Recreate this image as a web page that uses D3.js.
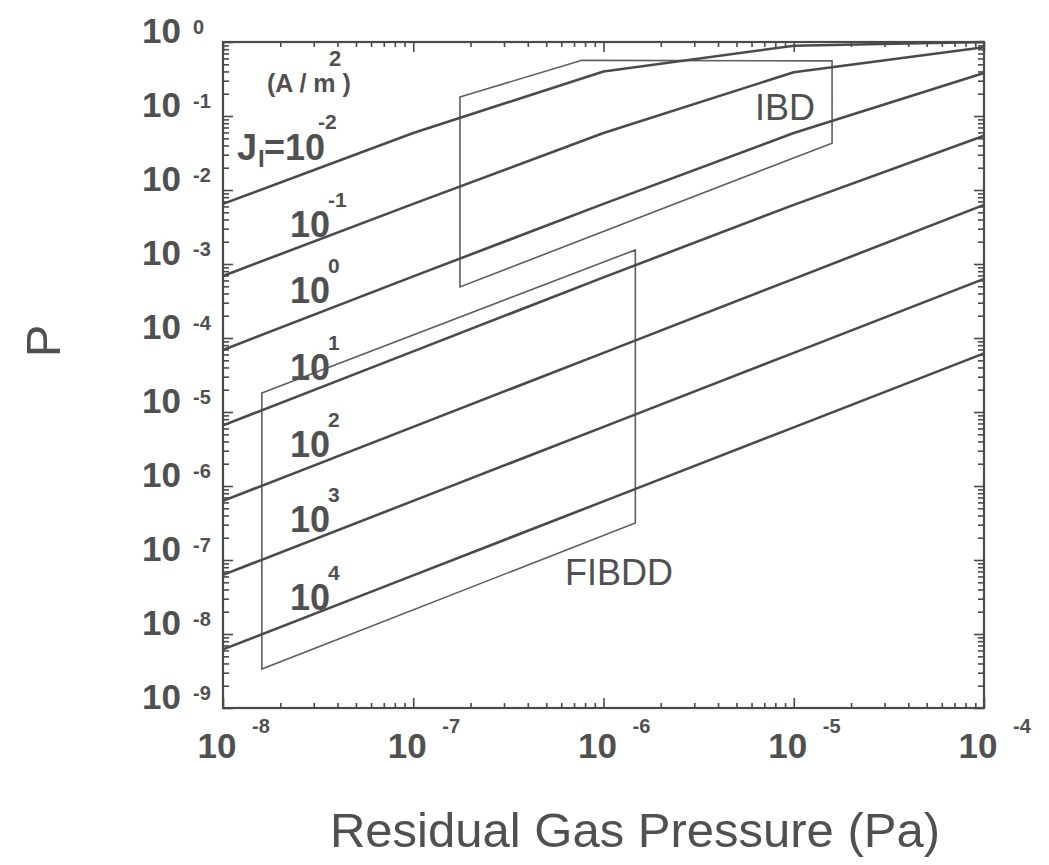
<!DOCTYPE html>
<html>
<head>
<meta charset="utf-8">
<script src="https://cdn.jsdelivr.net/npm/d3@7"></script>
<style>
  html, body { margin: 0; padding: 0; background: #fff; }
  svg { display: block; }
  text { font-family: "Liberation Sans", Arial, Helvetica, sans-serif; fill: #505050; }
</style>
</head>
<body>
<svg id="chart" width="1049" height="865"></svg>
<script>
// Residual gas pressure grid (Pa) at which each curve is evaluated
const pressures = [1e-8, 1e-7, 1e-6, 1e-5, 1e-4];

// Ion current density exponents, J_I = 10^k  (A/m^2)
const currentExps = [-2, -1, 0, 1, 2, 3, 4];

// Probability P at each pressure for each current density
const probJm2 = [6.5e-3, 5.9e-2, 0.40, 0.89, 1.0];
const probJm1 = [6.9e-4, 6.5e-3, 5.9e-2, 0.39, 0.85];
const probJ0  = [6.9e-5, 6.8e-4, 6.5e-3, 5.9e-2, 0.38];
const probJ1  = [6.6e-6, 6.6e-5, 6.6e-4, 6.3e-3, 5.4e-2];
const probJ2  = [6.3e-7, 6.3e-6, 6.3e-5, 6.3e-4, 6.3e-3];
const probJ3  = [6.3e-8, 6.3e-7, 6.3e-6, 6.3e-5, 6.3e-4];
const probJ4  = [6.2e-9, 6.2e-8, 6.2e-7, 6.2e-6, 6.2e-5];
const probSeries = [probJm2, probJm1, probJ0, probJ1, probJ2, probJ3, probJ4];

// Operating regions: [pressure, P] outline vertices
const regionIBD = [[1.76e-7, 0.181], [7.7e-7, 0.565], [1.59e-5, 0.555], [1.59e-5, 4.3e-2], [1.76e-7, 4.9e-4]];
const regionFIBDD = [[1.6e-8, 1.81e-5], [1.47e-6, 1.55e-3], [1.47e-6, 3.16e-7], [1.6e-8, 3.37e-9]];

// Axis decades
const xDecades = [-8, -7, -6, -5, -4];
const yDecades = [0, -1, -2, -3, -4, -5, -6, -7, -8, -9];

const svg = d3.select("#chart");
const plotL = 223, plotR = 984, plotT = 42, plotB = 708;

const x = d3.scaleLog().domain([1e-8, 1e-4]).range([plotL, plotR]);
const y = d3.scaleLog().domain([1e-9, 1]).range([plotB, plotT]);

const ink = "#4a4a4a";

function minorTicks(lo, hi) {
  const out = [];
  for (let e = lo; e < hi; e++) for (let m = 2; m <= 9; m++) out.push(m * Math.pow(10, e));
  return out;
}
const xMinor = minorTicks(-8, -4);
const yMinor = minorTicks(-9, 0);
const xMajor = xDecades.map(e => Math.pow(10, e));
const yMajor = yDecades.map(e => Math.pow(10, e));

// Inward-pointing ticks on all four sides
function drawAxis(gen, scale, vals, size, tx, ty) {
  const g = svg.append("g").attr("transform", `translate(${tx},${ty})`)
    .call(gen(scale).tickValues(vals).tickSize(-size).tickFormat(""));
  g.select(".domain").remove();
  g.selectAll("line").attr("stroke", ink).attr("stroke-width", 1.6);
}
drawAxis(d3.axisBottom, x, xMinor, 5, 0, plotB);
drawAxis(d3.axisBottom, x, xMajor, 10, 0, plotB);
drawAxis(d3.axisTop, x, xMinor, 5, 0, plotT);
drawAxis(d3.axisTop, x, xMajor, 10, 0, plotT);
drawAxis(d3.axisLeft, y, yMinor, 6, plotL, 0);
drawAxis(d3.axisLeft, y, yMajor, 10, plotL, 0);
drawAxis(d3.axisRight, y, yMinor, 6, plotR, 0);
drawAxis(d3.axisRight, y, yMajor, 10, plotR, 0);

// Frame
svg.append("rect").attr("x", plotL).attr("y", plotT)
  .attr("width", plotR - plotL).attr("height", plotB - plotT)
  .attr("fill", "none").attr("stroke", ink).attr("stroke-width", 2.2);

// Region outlines
const outline = d3.line().x(d => x(d[0])).y(d => y(d[1]));
[regionIBD, regionFIBDD].forEach(r => {
  svg.append("path").attr("d", outline(r) + "Z")
    .attr("fill", "none").attr("stroke", "#5e5e5e").attr("stroke-width", 1.6);
});

// Probability curves
const curve = d3.line().x((d, i) => x(pressures[i])).y(d => y(d));
probSeries.forEach(s => {
  svg.append("path").attr("d", curve(s))
    .attr("fill", "none").attr("stroke", ink).attr("stroke-width", 2.6)
    .attr("stroke-linejoin", "round");
});

// Y tick labels: 10 with superscript exponent
yDecades.forEach(e => {
  const ty = y(Math.pow(10, e));
  svg.append("text").attr("x", plotL - 42).attr("y", ty + 1)
    .attr("text-anchor", "end").attr("font-size", 35).attr("font-weight", "bold").text("10");
  svg.append("text").attr("x", plotL - 30).attr("y", ty - 8)
    .attr("font-size", 20).attr("font-weight", "bold").text(String(e));
});

// X tick labels
xDecades.forEach(e => {
  const tx = x(Math.pow(10, e));
  svg.append("text").attr("x", tx - 6).attr("y", 758)
    .attr("text-anchor", "middle").attr("font-size", 35).attr("font-weight", "bold").text("10");
  svg.append("text").attr("x", tx + 29).attr("y", 733)
    .attr("font-size", 20).attr("font-weight", "bold").text(String(e));
});

// Axis titles
svg.append("text").attr("x", 635).attr("y", 847).attr("text-anchor", "middle")
  .attr("font-size", 49).attr("fill", "#5a5a5a").text("Residual Gas Pressure (Pa)");
svg.append("text").attr("transform", "translate(60,341) rotate(-90)")
  .attr("text-anchor", "middle").attr("font-size", 49).attr("fill", "#5a5a5a").text("P");

// Units
svg.append("text").attr("x", 267).attr("y", 92).attr("font-size", 25)
  .attr("font-weight", "bold").attr("xml:space", "preserve").text("(A / m )");
svg.append("text").attr("x", 329).attr("y", 66).attr("font-size", 22)
  .attr("font-weight", "bold").text("2");

// Curve labels
const labelBase = [160, 237, 303, 380, 457, 532, 610];
currentExps.forEach((k, i) => {
  const b = labelBase[i];
  if (i === 0) {
    svg.append("text").attr("x", 237).attr("y", b).attr("font-size", 36).attr("font-weight", "bold").text("J");
    svg.append("text").attr("x", 258).attr("y", b + 7).attr("font-size", 24).attr("font-weight", "bold").text("I");
    svg.append("text").attr("x", 264).attr("y", b).attr("font-size", 36).attr("font-weight", "bold").text("=10");
    svg.append("text").attr("x", 318).attr("y", b - 31).attr("font-size", 21).attr("font-weight", "bold").text(String(k));
  } else {
    svg.append("text").attr("x", 290).attr("y", b).attr("font-size", 36).attr("font-weight", "bold").text("10");
    svg.append("text").attr("x", 328).attr("y", b - 30)
      .attr("font-size", 21).attr("font-weight", "bold").text(String(k));
  }
});

// Region names
svg.append("text").attr("x", 755).attr("y", 120).attr("font-size", 36).attr("fill", "#5a5a5a").text("IBD");
svg.append("text").attr("x", 565).attr("y", 585).attr("font-size", 36).attr("fill", "#5a5a5a").text("FIBDD");
</script>
</body>
</html>
